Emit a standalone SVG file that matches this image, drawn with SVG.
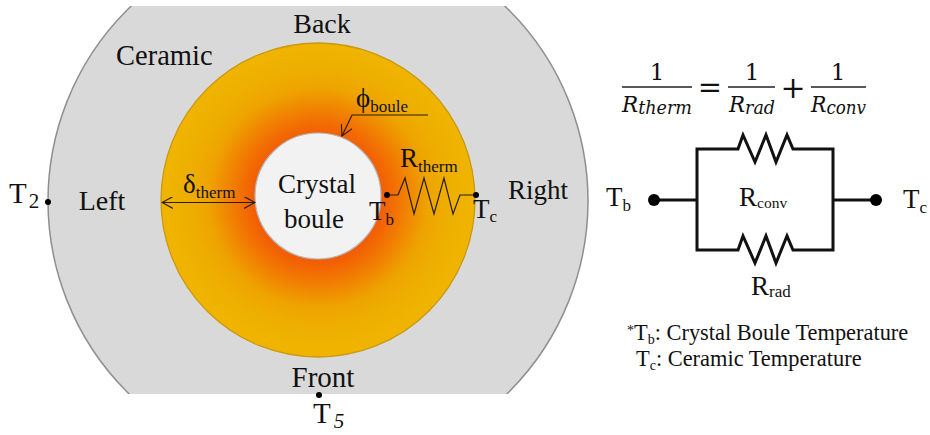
<svg xmlns="http://www.w3.org/2000/svg" width="930" height="435" viewBox="0 0 930 435">
<style>
text{font-family:"Liberation Serif","Times New Roman",serif;fill:#111}
.l{font-size:27px}.s{font-size:17px}
.n{font-size:22.400px}.ns{font-size:14px}
.m{font-family:"DejaVu Serif",serif;font-size:23px}
.mi{font-family:"DejaVu Serif",serif;font-size:22px;font-style:italic}
.thin{fill:none;stroke:#2a1c00;stroke-width:1.2}
.bold{fill:none;stroke:#111;stroke-width:3}
.rule{stroke:#222;stroke-width:1.6}
</style>
<defs>
<clipPath id="clip"><rect x="0" y="6" width="930" height="388"/></clipPath>
<radialGradient id="heat" gradientUnits="userSpaceOnUse" cx="318" cy="198" r="157">
<stop offset="0.4" stop-color="#f25c05"/>
<stop offset="0.5" stop-color="#f27203"/>
<stop offset="0.7" stop-color="#eea400"/>
<stop offset="0.85" stop-color="#eeb000"/>
<stop offset="1" stop-color="#f0b400"/>
</radialGradient>
<marker id="open" markerWidth="12" markerHeight="12" refX="11" refY="6" orient="auto-start-reverse" markerUnits="userSpaceOnUse"><path d="M0 0L11 6L0 12" fill="none" stroke="#2a1c00" stroke-width="1.1"/></marker>
</defs>
<g id="ceramic"><circle cx="318" cy="201" r="270" fill="#d9d9d9" stroke="#8f8f8f" stroke-width="1.5" clip-path="url(#clip)"/>
<text x="116" y="65" style="font-size:28.500px">Ceramic</text></g>
<g id="thermal-zone"><circle cx="318" cy="200" r="157" fill="url(#heat)" stroke="#c99a10" stroke-width="1.3"/></g>
<g id="crystal-boule"><circle cx="318" cy="196" r="63" fill="#f2f2f2" stroke="#b8b8b8" stroke-width="1.2"/>
<text class="l" x="317" y="193" text-anchor="middle">Crystal</text>
<text class="l" x="314" y="228" text-anchor="middle">boule</text></g>
<g id="back"><text class="l" x="322" y="33" text-anchor="middle" style="font-size:28px">Back</text></g>
<g id="left"><text class="l" x="102" y="210" text-anchor="middle" style="font-size:28px">Left</text></g>
<g id="right"><text class="l" x="538" y="199" text-anchor="middle">Right</text></g>
<g id="front"><text class="l" x="323" y="387" text-anchor="middle" style="font-size:29px">Front</text></g>
<g id="t2"><circle cx="48" cy="202" r="3" fill="#000"/><text x="9" y="203" font-size="29">T<tspan dy="5" dx="2" font-size="21">2</tspan></text></g>
<g id="t5"><circle cx="319" cy="395" r="3" fill="#000"/><text x="313" y="423" font-size="29">T<tspan dy="5" dx="3" font-size="21" font-style="italic">5</tspan></text></g>
<g id="connectors">
<path class="thin" d="M162 202.500H255" marker-start="url(#open)" marker-end="url(#open)"/>
<path class="thin" d="M428 115H352L342 136" marker-end="url(#open)"/>
<path class="thin" d="M387 195H398L405 178L414 214L424 178L434 214L444 178L453 214L460 195H476"/>
<path class="bold" d="M654 200H697M834 200H876M697 200V149H738L743 135L755 162L766 135L776 162L787 135L793 149H833V250H793L787 236L776 263L766 236L755 263L743 236L738 250H697V200"/>
</g>
<g id="delta-label"><text class="l" x="183" y="193">δ<tspan class="s" dy="5">therm</tspan></text></g>
<g id="phi-label"><text class="l" x="356" y="107">ϕ<tspan class="s" dy="5">boule</tspan></text></g>
<g id="r-therm"><text class="l" x="400" y="167">R<tspan class="s" dy="5">therm</tspan></text></g>
<g id="tb-node"><circle cx="387" cy="195" r="3" fill="#000"/><text class="l" x="369" y="220">T<tspan class="s" dy="5">b</tspan></text></g>
<g id="tc-node"><circle cx="476" cy="195" r="3" fill="#000"/><text class="l" x="473" y="218">T<tspan class="s" dy="4">c</tspan></text></g>
<g id="equation">
<line class="rule" x1="622" y1="87" x2="692" y2="87"/><line class="rule" x1="728" y1="87" x2="775" y2="87"/><line class="rule" x1="811" y1="87" x2="866" y2="87"/>
<text class="m" x="657" y="80" text-anchor="middle">1</text><text class="m" x="752" y="80" text-anchor="middle">1</text><text class="m" x="838" y="80" text-anchor="middle">1</text>
<text class="mi" x="622" y="112" textLength="70" lengthAdjust="spacingAndGlyphs">R<tspan font-size="18" dy="2">therm</tspan></text>
<text class="mi" x="729" y="112" textLength="46" lengthAdjust="spacingAndGlyphs">R<tspan font-size="18" dy="2">rad</tspan></text>
<text class="mi" x="811" y="112" textLength="55" lengthAdjust="spacingAndGlyphs">R<tspan font-size="18" dy="2">conv</tspan></text>
<text class="m" x="710" y="97" text-anchor="middle" style="font-size:29px">=</text>
<text class="m" x="793" y="98" text-anchor="middle" style="font-size:30px">+</text>
</g>
<g id="circuit-tb"><circle cx="654" cy="200" r="6" fill="#000"/><text class="l" x="606" y="206">T<tspan class="s" dy="5">b</tspan></text></g>
<g id="circuit-tc"><circle cx="876" cy="200" r="6" fill="#000"/><text class="l" x="903" y="208">T<tspan class="s" dy="5">c</tspan></text></g>
<g id="r-conv"><text class="l" x="739" y="206">R<tspan dy="2" style="font-size:15.500px">conv</tspan></text></g>
<g id="r-rad"><text class="l" x="751" y="295">R<tspan class="s" dy="2">rad</tspan></text></g>
<g id="legend">
<text class="n" x="627" y="340"><tspan class="ns" dy="-5">*</tspan><tspan dy="5">T</tspan><tspan class="ns" dy="4">b</tspan><tspan dy="-4">: Crystal Boule Temperature</tspan></text>
<text class="n" x="636" y="366">T<tspan class="ns" dy="4">c</tspan><tspan dy="-4">: Ceramic Temperature</tspan></text>
</g>
</svg>
